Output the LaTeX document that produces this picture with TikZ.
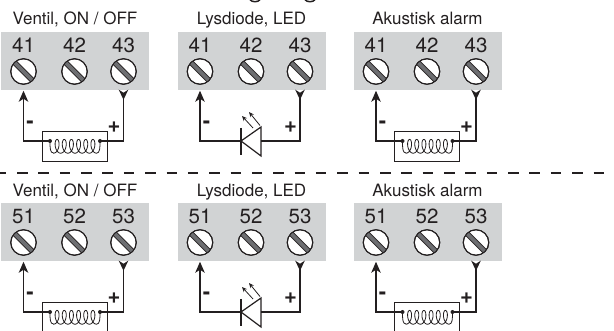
\documentclass[tikz,border=0pt]{standalone}
\usepackage{fontspec}
\setmainfont{TeX Gyre Heros}
\usetikzlibrary{arrows.meta,calc}
\definecolor{panelgray}{HTML}{D1D3D4}
\definecolor{txt}{HTML}{231F20}
\definecolor{slotgray}{HTML}{6D6E71}
\tikzset{
  panel/.style={fill=panelgray,draw=none,minimum width=148pt,minimum height=58pt,inner sep=0pt,outer sep=0pt},
  screw/.style={circle,fill=white,draw=txt,line width=1pt,minimum size=25.5pt,inner sep=0pt,outer sep=0pt},
  term/.style={font=\fontsize{20.5}{21}\selectfont,text=txt,inner sep=0pt,anchor=base},
  ttl/.style={font=\fontsize{17}{18}\selectfont,text=txt,inner sep=0pt,anchor=base},
  wire/.style={draw=txt,line width=1.2pt},
  wireup/.style={wire,-{Stealth[length=11pt,width=9.5pt,inset=3pt]},shorten >=6.5pt},
  wiredown/.style={wire,-{Stealth[length=10pt,width=9.5pt,inset=3pt,reversed]},shorten >=5.5pt},
  sign/.style={font=\bfseries\fontsize{22}{22}\selectfont,text=txt,inner sep=0pt},
  loadbox/.style={draw=txt,line width=1pt,fill=white,minimum width=65pt,minimum height=30pt,inner sep=0pt,outer sep=0pt},
  dotmark/.style={circle,fill=txt,minimum size=4pt,inner sep=0pt},
  coil/.style={draw=txt,line width=.8pt},
  sep/.style={draw=txt,line width=2.4pt,dash pattern=on 10.5pt off 10.85pt},
}
% #1 prefix  #2 x  #3 y  #4 title  #5 #6 #7 numbers  #8 title baseline
\newcommand{\termblock}[8]{%
  \begin{scope}[shift={(#2,#3)}]
    \node[panel] (#1p) at (75,61) {};
    \node[ttl] (#1t) at (75,#8) {#4};
    \node[term] (#1n1) at (23.5,53) {#5};
    \node[term] (#1n2) at (74.5,53) {#6};
    \node[term] (#1n3) at (123.5,52.3) {#7};
    \foreach \k/\px in {1/23.5,2/74.5,3/123.5}{
      \node[screw] (#1s\k) at (\px,71.5) {};
      \draw[line cap=butt,draw=txt,line width=5.4pt] ($(#1s\k)+(-8.8,-8.8)$) -- ($(#1s\k)+(8.8,8.8)$);
      \draw[line cap=butt,draw=slotgray,line width=3.8pt] ($(#1s\k)+(-9.1,-9.1)$) -- ($(#1s\k)+(9.1,9.1)$);
      \draw[draw=txt,line width=1pt] (#1s\k) circle (12.75pt);
    }
    \node[sign] (#1m) at (30,125.2) {-};
    \node[sign] (#1a) at (114,127) {+};
  \end{scope}}
\newcommand{\coilload}[3]{%
  \begin{scope}[shift={(#2,#3)}]
    \node[loadbox] (#1b) at (74.5,147) {};
    \node[dotmark] (#1d1) at (50,141) {};
    \node[dotmark] (#1d2) at (100,141) {};
    \draw[wireup] (#1d1.center) -- (#1b.west |- #1d1) -| (#1s1.south);
    \draw[wiredown] (#1d2.center) -- (#1b.east |- #1d2) -| (#1s3.south);
    \draw[coil] (#1d1.center) .. controls (50,148) and (50,153) .. (53.5,153)
      -- plot[domain=0:2160,samples=180,smooth] ({53.5+\x/2160*43+3.6*sin(\x)},{146.3+6.9*cos(\x)})
      .. controls (100,153) and (100,148) .. (#1d2.center);
  \end{scope}}
\newcommand{\ledload}[3]{%
  \begin{scope}[shift={(#2,#3)}]
    \coordinate (#1k) at (64.5,141);
    \coordinate (#1c) at (84.5,141);
    \draw[wireup] (#1k) -| (#1s1.south);
    \draw[wiredown] (#1c) -| (#1s3.south);
    \draw[wire,line join=miter] (#1k) -- (84.5,127) -- (84.5,156) -- cycle;
    \draw[draw=txt,line width=2pt] (64.5,128) -- (64.5,155);
    \draw[draw=txt,line width=.8pt,-{Stealth[length=5pt,width=4.4pt]}] (76.5,128) -- (65.5,116);
    \draw[draw=txt,line width=.8pt,-{Stealth[length=5pt,width=4.4pt]}] (83.5,125.5) -- (72.5,112);
  \end{scope}}
\begin{document}
\begin{tikzpicture}[x=1pt,y=-1pt]
  \useasboundingbox (0,0) rectangle (614,331);
  \clip (0,0) rectangle (614,331);
  \draw[draw=txt,line width=1.5pt] (250,-.3) .. controls (252,2.4) and (258,2.4) .. (260,-.3);
  \draw[draw=txt,line width=1.5pt] (305,-.3) .. controls (307,2.4) and (313,2.4) .. (315,-.3);
  \termblock{a}{0}{0}{Ventil, ON / OFF}{41}{42}{43}{24.5}
  \coilload{a}{0}{0}
  \termblock{b}{176.5}{0}{Lysdiode, LED}{41}{42}{43}{24.5}
  \ledload{b}{176.5}{0}
  \termblock{c}{352.5}{0}{Akustisk alarm}{41}{42}{43}{24.5}
  \coilload{c}{352.5}{0}
  \coordinate (sepL) at (-4.3,173.3);
  \coordinate (sepR) at (604,173.3);
  \draw[sep] (sepL) -- (sepR);
  \termblock{d}{0}{171}{Ventil, ON / OFF}{51}{52}{53}{26}
  \coilload{d}{0}{171}
  \termblock{e}{176.5}{171}{Lysdiode, LED}{51}{52}{53}{26}
  \ledload{e}{176.5}{171}
  \termblock{f}{352.5}{171}{Akustisk alarm}{51}{52}{53}{26}
  \coilload{f}{352.5}{171}
\end{tikzpicture}
\end{document}
